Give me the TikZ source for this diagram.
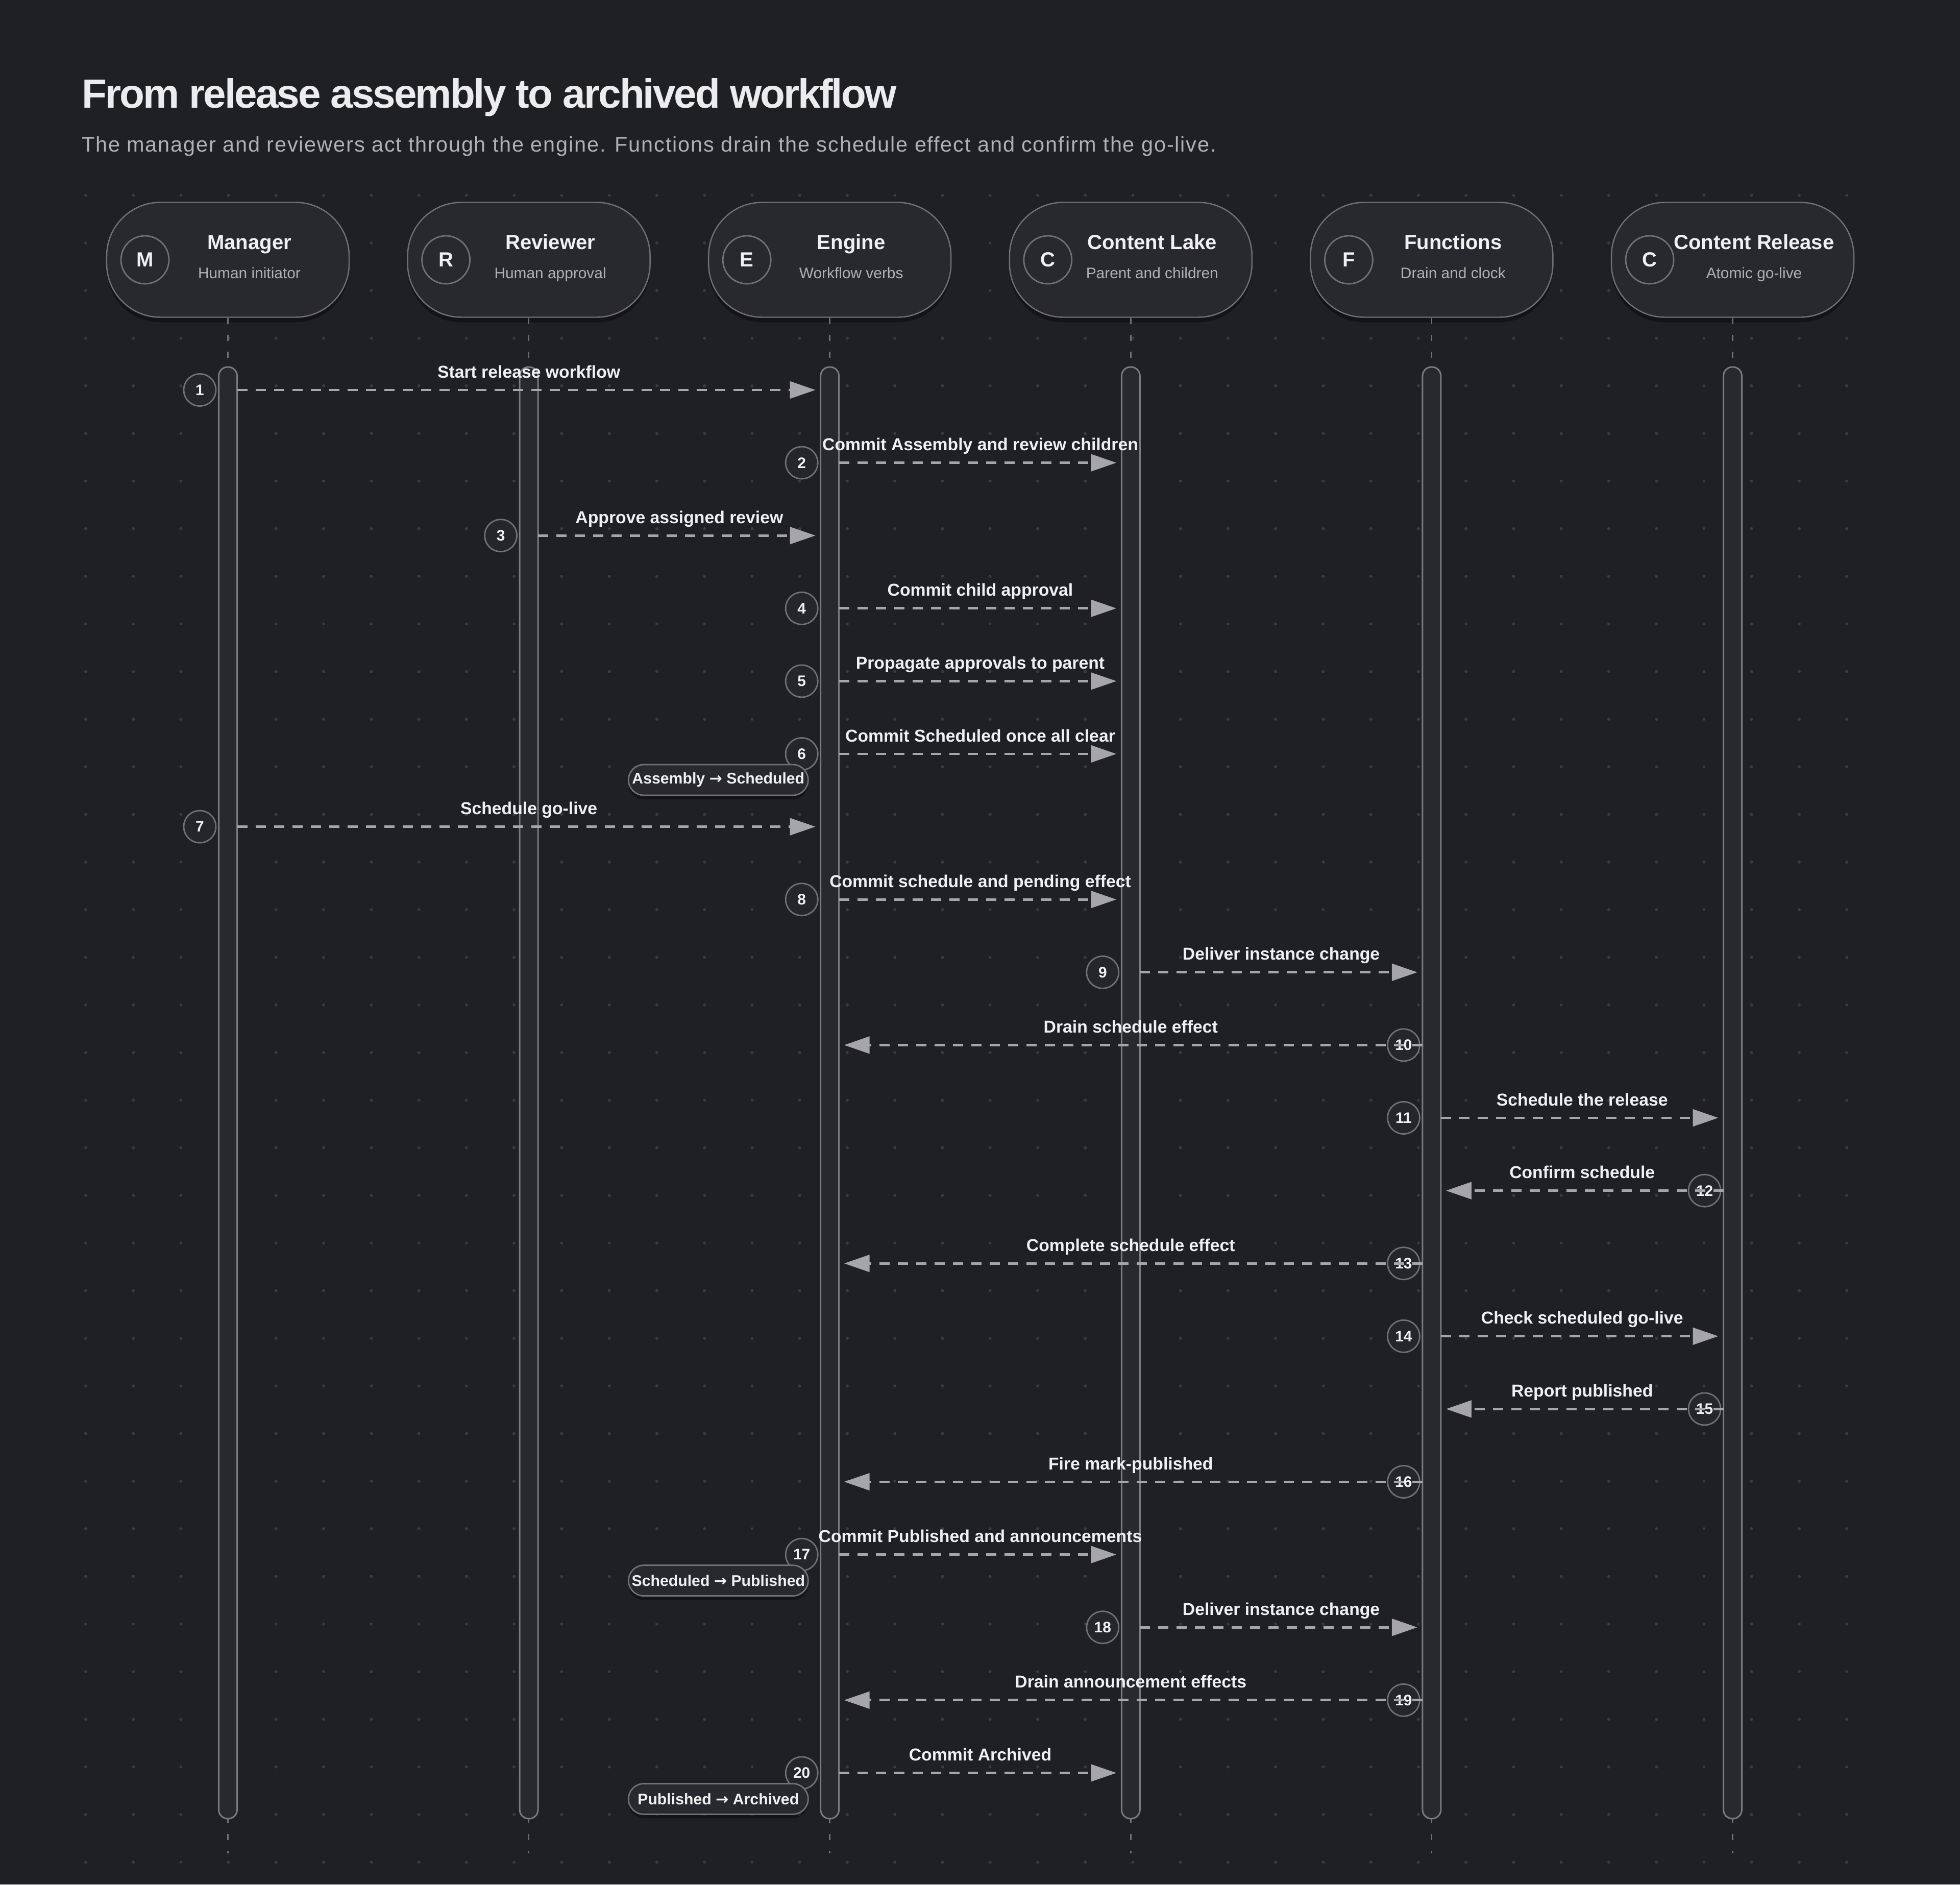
\documentclass[tikz,border=0pt]{standalone}
\usepackage{fontspec}
\setmainfont{Liberation Sans}
\newfontfamily\headfont[LetterSpace=-3.7]{Liberation Sans}
\newfontfamily\leadfont[LetterSpace=4.4]{Liberation Sans}
\newfontfamily\arrowfont{DejaVu Sans}
\newcommand{\stto}{{\arrowfont\bfseries →}}
\usetikzlibrary{arrows.meta,positioning,calc,shadows}
\definecolor{wfbg}{RGB}{31,32,36}
\definecolor{wfbox}{RGB}{40,41,46}
\definecolor{wfnum}{RGB}{37,38,43}
\definecolor{wfedge}{RGB}{112,112,118}
\definecolor{wfbaredge}{RGB}{122,122,128}
\definecolor{wfarr}{RGB}{165,165,171}
\definecolor{wfdot}{RGB}{58,59,64}
\definecolor{wftitle}{RGB}{236,236,238}
\definecolor{wfsub}{RGB}{176,176,182}
\definecolor{wftxt}{RGB}{240,240,242}
\tikzset{
  actor/.style={
    draw=wfedge, fill=wfbox, line width=0.7pt, rounded corners=1.05cm,
    minimum width=4.75cm, minimum height=2.25cm, inner sep=0pt,
    drop shadow={shadow xshift=0pt, shadow yshift=-0.1cm, opacity=0.35, fill=black}
  },
  ini/.style={
    circle, draw=wfedge, line width=0.8pt, minimum size=0.94cm, inner sep=0pt,
    text=wftxt, font=\fontsize{11.4}{13}\selectfont\bfseries
  },
  aname/.style={anchor=base, inner sep=0pt, text=wftxt, font=\fontsize{11.4}{13}\selectfont\bfseries},
  asub/.style={anchor=base, inner sep=0pt, text=wfsub, font=\fontsize{8.5}{10}\selectfont},
  bar/.style={
    draw=wfbaredge, fill=wfbox, line width=0.85pt, rounded corners=0.175cm,
    minimum width=0.36cm, minimum height=28.44cm, inner sep=0pt, outer sep=0pt
  },
  life/.style={draw=wfedge, line width=0.7pt, dash pattern=on 0.12cm off 0.21cm},
  num/.style={
    circle, draw=wfedge, fill=wfnum, line width=0.8pt, minimum size=0.63cm,
    inner sep=0pt, text=wftxt, font=\fontsize{8.5}{10}\selectfont\bfseries
  },
  msg/.style={
    draw=wfarr, line width=1.4pt, dash pattern=on 0.2cm off 0.16cm,
    -{Triangle[length=0.5cm,width=0.33cm]}, shorten <=0.18cm, shorten >=0.28cm
  },
  lbl/.style={anchor=base, yshift=0.24cm, inner sep=0pt, text=wftxt, font=\fontsize{9.6}{11}\selectfont\bfseries},
  state/.style={
    draw=wfedge, fill=wfbox, line width=0.8pt, rounded corners=0.3cm,
    minimum width=3.52cm, minimum height=0.6cm, inner sep=0.5pt, anchor=east,
    text=wftxt, font=\fontsize{8.6}{10}\selectfont\bfseries,
    drop shadow={shadow xshift=0pt, shadow yshift=-0.08cm, opacity=0.35, fill=black}
  }
}

\begin{document}
\begin{tikzpicture}[x=1cm,y=-1cm]
  % canvas and dot grid
  \fill[wfbg] (0,0) rectangle (38.40,36.92);
  \foreach \i in {0,...,37} {
    \foreach \j in {0,...,35} {
      \fill[wfdot] ({1.679+0.9325*\i},{3.827+0.9330*\j}) circle (0.03);
    }
  }

  \node[anchor=base west, inner sep=0pt, text=wftitle, font=\headfont\bfseries\fontsize{22.76}{26}\selectfont] (title) at (1.595,2.11) {From release assembly to archived workflow};
  \node[anchor=base west, inner sep=0pt, text=wfsub, font=\leadfont\fontsize{11.8}{14}\selectfont] (subtitle) at (1.595,2.98) {The manager and reviewers act through the engine. Functions drain the schedule effect and confirm the go-live.};

  \coordinate (bot) at (0,36.31);
  \foreach \i in {1,...,20} \coordinate (r\i) at (0,{7.64+1.426*(\i-1)});

  % participants, lifelines, activation bars
  \foreach \n/\x/\l/\t/\s in {
      mgr/4.465/M/Manager/Human initiator,
      rev/10.361/R/Reviewer/Human approval,
      eng/16.257/E/Engine/Workflow verbs,
      lake/22.153/C/Content Lake/Parent and children,
      fn/28.049/F/Functions/Drain and clock,
      rel/33.945/C/Content Release/Atomic go-live} {
    \node[actor] (\n) at (\x,5.09) {};
    \node[ini] (i\n) at ($(\n.center)+(-1.625,0)$) {\l};
    \node[aname] (t\n) at ($(\n.center)+(0.42,-0.21)$) {\t};
    \node[asub] (s\n) at ($(\n.center)+(0.42,0.36)$) {\s};
    \draw[life] (\n.south) -- (\n.south |- bot);
    \node[bar] (b\n) at (\x,21.41) {};
  }

  % numbered messages
  \foreach \i/\a/\b/\t in {
      1/mgr/eng/Start release workflow,
      2/eng/lake/Commit Assembly and review children,
      3/rev/eng/Approve assigned review,
      4/eng/lake/Commit child approval,
      5/eng/lake/Propagate approvals to parent,
      6/eng/lake/Commit Scheduled once all clear,
      7/mgr/eng/Schedule go-live,
      8/eng/lake/Commit schedule and pending effect,
      9/lake/fn/Deliver instance change,
      10/fn/eng/Drain schedule effect,
      11/fn/rel/Schedule the release,
      12/rel/fn/Confirm schedule,
      13/fn/eng/Complete schedule effect,
      14/fn/rel/Check scheduled go-live,
      15/rel/fn/Report published,
      16/fn/eng/Fire mark-published,
      17/eng/lake/Commit Published and announcements,
      18/lake/fn/Deliver instance change,
      19/fn/eng/Drain announcement effects,
      20/eng/lake/Commit Archived} {
    \node[num] (n\i) at ($(b\a.center |- r\i)+(-0.55,0)$) {\i};
    \draw[msg] (b\a.center |- r\i) -- node[lbl] {\t} (b\b.center |- r\i);
  }

  % state changes
  \node[state] (st6) at ($(beng.center |- r6)+(-0.41,0.51)$) {Assembly \stto{} Scheduled};
  \node[state] (st17) at ($(beng.center |- r17)+(-0.41,0.51)$) {Scheduled \stto{} Published};
  \node[state] (st20) at ($(beng.center |- r20)+(-0.41,0.51)$) {Published \stto{} Archived};
\end{tikzpicture}
\end{document}
